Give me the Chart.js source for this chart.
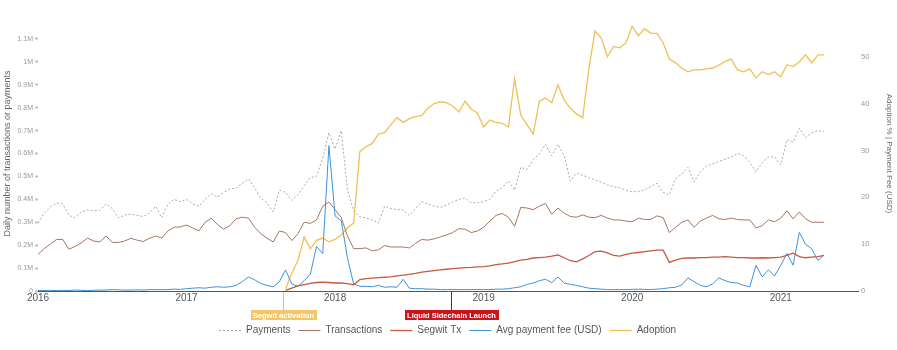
<!DOCTYPE html>
<html><head><meta charset="utf-8">
<script src="https://cdn.jsdelivr.net/npm/chart.js@4.4.1/dist/chart.umd.min.js"></script>
<style>html,body{margin:0;padding:0;background:#fff}#wrap{width:897px;height:350px}</style>
</head><body><div id="wrap"><canvas id="c" width="897" height="350"></canvas></div>
<script>
// ---- data (half-monthly samples from 2016-01-01); counts in thousands ----
const startYear = 2016;
const stepYears = 1 / 24;

const payments = [297,340,367,384,380,330,319,345,354,350, 352,380,360,319,332,335,330,325,340,370,
  320,380,400,390,400,380,370,400,425,410, 430,445,450,470,490,450,405,385,345,440,
  430,395,420,460,495,500,580,690,620,700, 440,350,323,319,310,297,370,360,355,354,
  330,360,390,380,370,365,375,388,400,405, 385,385,390,400,435,450,480,440,540,530,
  572,600,640,590,640,590,480,515,505,495, 485,475,463,455,450,440,432,435,441,455,
  470,430,420,490,510,540,475,520,545,555, 565,575,585,600,590,560,520,560,585,585,
  550,660,650,710,670,690,700,695];

const transactions = [160,185,205,225,225,182,195,210,231,218, 214,240,212,212,218,230,222,216,230,240,
  231,262,278,280,288,275,262,300,318,290, 270,285,315,322,318,278,250,230,214,262,
  255,220,250,300,295,310,370,388,355,320, 240,185,185,188,175,180,198,192,192,192,
  188,208,225,222,228,236,245,255,272,270, 255,262,278,305,330,338,322,282,365,362,
  355,370,382,335,362,340,325,322,332,322, 320,330,318,310,310,305,302,318,312,312,
  328,320,255,278,300,310,278,305,318,330, 315,312,318,312,310,310,275,285,310,302,
  318,350,315,345,315,300,300,300];

// Segwit-era series begin at sample 40 (Segwit activation)
const segwitStartIndex = 40;
const segwitTx = [3,13,22,28,33,37,39,37,35,35, 32,27,50,54,56,58,60,62,66,69,
  73,77,82,86,89,92,95,98,100,102, 103,105,106,110,115,118,122,128,135,138,
  144,146,148,152,157,145,132,127,140,155, 172,174,166,155,152,160,165,168,172,175,
  178,178,125,135,142,144,144,146,146,148, 148,150,148,146,146,144,144,145,144,146,
  148,155,165,150,145,148,150,155];

const avgFee = [0.1,0.1,0.15,0.1,0.15,0.1,0.2,0.15,0.1,0.15, 0.2,0.2,0.3,0.25,0.2,0.2,0.25,0.2,0.3,0.3,
  0.3,0.3,0.4,0.35,0.5,0.6,0.7,0.6,0.8,0.9, 0.8,0.9,1.2,2.0,3.0,2.4,1.6,1.2,0.9,2.0,
  4.5,1.5,1.0,2.2,3.6,9.5,8,31,16,15, 7,1.5,1.0,1.0,0.9,1.2,0.8,0.9,0.8,2.5,
  0.6,0.5,0.5,0.4,0.4,0.3,0.3,0.3,0.3,0.3, 0.3,0.3,0.3,0.3,0.4,0.4,0.5,0.7,0.9,1.4,
  1.7,2.2,2.5,1.8,3.0,1.7,1.4,1.2,0.9,0.6, 0.5,0.4,0.3,0.3,0.3,0.3,0.35,0.4,0.35,0.3,
  0.4,0.5,0.7,0.8,1.3,2.8,2.0,1.2,0.9,1.5, 2.8,2.2,1.8,1.7,1.2,0.9,5.5,3.0,4.5,3.2,
  5.5,8.0,5.5,12.5,10.0,9.0,6.5,7.7];

const adoption = [0.5,3.8,6.5,11.5,9.0,10.8,11.3,10.5,11.0,12.0, 13.5,14.5,29.8,30.8,31.5,33.5,33.8,35.5,37.0,36.0,
  36.8,37.2,37.5,39.0,40.0,40.4,40.2,39.5,38.2,40.5, 38.8,38.0,35.0,36.5,36.0,35.8,35.0,45.3,37.5,35.5,
  33.5,40.5,41.2,40.2,44.0,40.8,39.0,37.8,37.0,47.5, 55.5,54.0,50.0,52.2,51.9,53.0,56.5,54.5,56.0,55.0,
  55.0,53.0,49.5,48.7,47.6,46.8,47.2,47.2,47.4,47.6, 48.2,49.0,49.5,47.2,46.8,47.4,45.5,46.8,46.2,46.8,
  45.7,48.3,47.9,48.9,50.4,48.7,50.4,50.4];

const xTickYears = [2016, 2017, 2018, 2019, 2020, 2021];
const leftTicks = [0,100,200,300,400,500,600,700,800,900,1000,1100];   // thousands
const rightTicks = [0,10,20,30,40,50];
const events = [
  {x: 2017.646, label: 'Segwit activation', color: '#f3c768', line: '#efbf55'},
  {x: 2018.78, label: 'Liquid Sidechain Launch', color: '#c8141b', line: '#a01018'}
];
const seriesLabels = ['Payments', 'Transactions', 'Segwit Tx', 'Avg payment fee (USD)', 'Adoption'];

// ---- build ----
const FONT = "'Liberation Sans', Arial, sans-serif";
function toPoints(vals, offset) {
  return vals.map((v, i) => ({x: startYear + (i + offset) * stepYears, y: v}));
}

const legendPlugin = {
  id: 'customLegend',
  afterDraw(chart) {
    const ctx = chart.ctx;
    ctx.save();
    ctx.font = '10px ' + FONT;
    const lineW = 22, gapLT = 5, gapItem = 8;
    const items = chart.data.datasets.map(ds => ({ds, w: ctx.measureText(ds.label).width}));
    const total = items.reduce((a, it) => a + lineW + gapLT + it.w, 0) + gapItem * (items.length - 1);
    let x = Math.round((chart.width - total) / 2) - 1;
    const y = 330.5;
    items.forEach(it => {
      ctx.strokeStyle = it.ds.borderColor;
      ctx.lineWidth = Math.max(1, it.ds.borderWidth);
      ctx.setLineDash(it.ds.borderDash || []);
      ctx.beginPath(); ctx.moveTo(x, y); ctx.lineTo(x + lineW, y); ctx.stroke();
      ctx.setLineDash([]);
      ctx.fillStyle = '#555';
      ctx.textBaseline = 'middle';
      ctx.textAlign = 'left';
      ctx.fillText(it.ds.label, x + lineW + gapLT, y);
      x += lineW + gapLT + it.w + gapItem;
    });
    ctx.restore();
  }
};

const annotPlugin = {
  id: 'events',
  afterDraw(chart) {
    const {ctx, scales: {x}, chartArea} = chart;
    events.forEach(ev => {
      const px = Math.round(x.getPixelForValue(ev.x)) + 0.5;
      ctx.save();
      ctx.font = 'bold 7.5px ' + FONT;
      const tw = ctx.measureText(ev.label).width;
      const bw = Math.round(tw + 5), bh = 10;
      const by = chartArea.bottom + 19;
      ctx.strokeStyle = ev.line; ctx.lineWidth = 1;
      ctx.beginPath(); ctx.moveTo(px, chartArea.bottom + 1); ctx.lineTo(px, by); ctx.stroke();
      ctx.fillStyle = ev.color;
      ctx.fillRect(Math.round(px - bw / 2), by, bw, bh);
      ctx.fillStyle = '#fff'; ctx.textAlign = 'center'; ctx.textBaseline = 'middle';
      ctx.fillText(ev.label, px, by + bh / 2 + 0.5);
      ctx.restore();
    });
  }
};

new Chart(document.getElementById('c'), {
  type: 'line',
  data: {
    datasets: [
      {label: seriesLabels[0], data: toPoints(payments, 0), yAxisID: 'y', borderColor: '#aaaaaa', borderWidth: 1, borderDash: [2, 2]},
      {label: seriesLabels[1], data: toPoints(transactions, 0), yAxisID: 'y', borderColor: '#a87462', borderWidth: 1},
      {label: seriesLabels[2], data: toPoints(segwitTx, segwitStartIndex), yAxisID: 'y', borderColor: '#c65a3c', borderWidth: 1.3},
      {label: seriesLabels[3], data: toPoints(avgFee, 0), yAxisID: 'y1', borderColor: '#3d92dc', borderWidth: 1},
      {label: seriesLabels[4], data: toPoints(adoption, segwitStartIndex), yAxisID: 'y1', borderColor: '#f0c055', borderWidth: 1.3}
    ]
  },
  options: {
    responsive: false, animation: false, devicePixelRatio: 1,
    layout: {padding: {top: 16, left: 0, right: 0, bottom: 0}},
    elements: {point: {radius: 0}, line: {tension: 0, fill: false}},
    plugins: {legend: {display: false}, tooltip: {enabled: false}},
    scales: {
      x: {
        type: 'linear', min: 2016, max: 2021.52, position: 'bottom',
        afterBuildTicks: s => { s.ticks = xTickYears.map(v => ({value: v})); },
        afterFit: s => { s.height = 59; },
        ticks: {callback: v => String(v), font: {family: FONT, size: 10}, color: '#555', padding: 1, maxRotation: 0, autoSkip: false},
        grid: {display: true, drawOnChartArea: false, drawTicks: false},
        border: {display: true, color: '#555', width: 1}
      },
      y: {
        position: 'left', min: 0, max: 1200,
        afterBuildTicks: s => { s.ticks = leftTicks.map(v => ({value: v})); },
        afterFit: s => { s.width = 38; },
        ticks: {callback: v => v === 0 ? '0' : (+(v / 1000).toFixed(1)) + 'M', font: {family: FONT, size: 7}, color: '#9a9a9a', padding: 2},
        grid: {drawOnChartArea: false, drawTicks: true, tickLength: 3, tickWidth: 2, tickColor: '#c0c0c0'},
        border: {display: false},
        title: {display: true, text: 'Daily number of transactions or payments', font: {family: FONT, size: 9}, color: '#666', padding: {top: 2, bottom: 0}}
      },
      y1: {
        position: 'right', min: 0, max: 58.7,
        afterBuildTicks: s => { s.ticks = rightTicks.map(v => ({value: v})); },
        afterFit: s => { s.width = 39; },
        ticks: {font: {family: FONT, size: 7.5}, color: '#9a9a9a', padding: 3},
        grid: {drawOnChartArea: false, drawTicks: false},
        border: {display: false},
        title: {display: true, text: 'Adoption % | Payment Fee (USD)', font: {family: FONT, size: 8}, color: '#666', padding: {top: 3, bottom: 0}}
      }
    }
  },
  plugins: [legendPlugin, annotPlugin]
});
</script>
</body></html>
